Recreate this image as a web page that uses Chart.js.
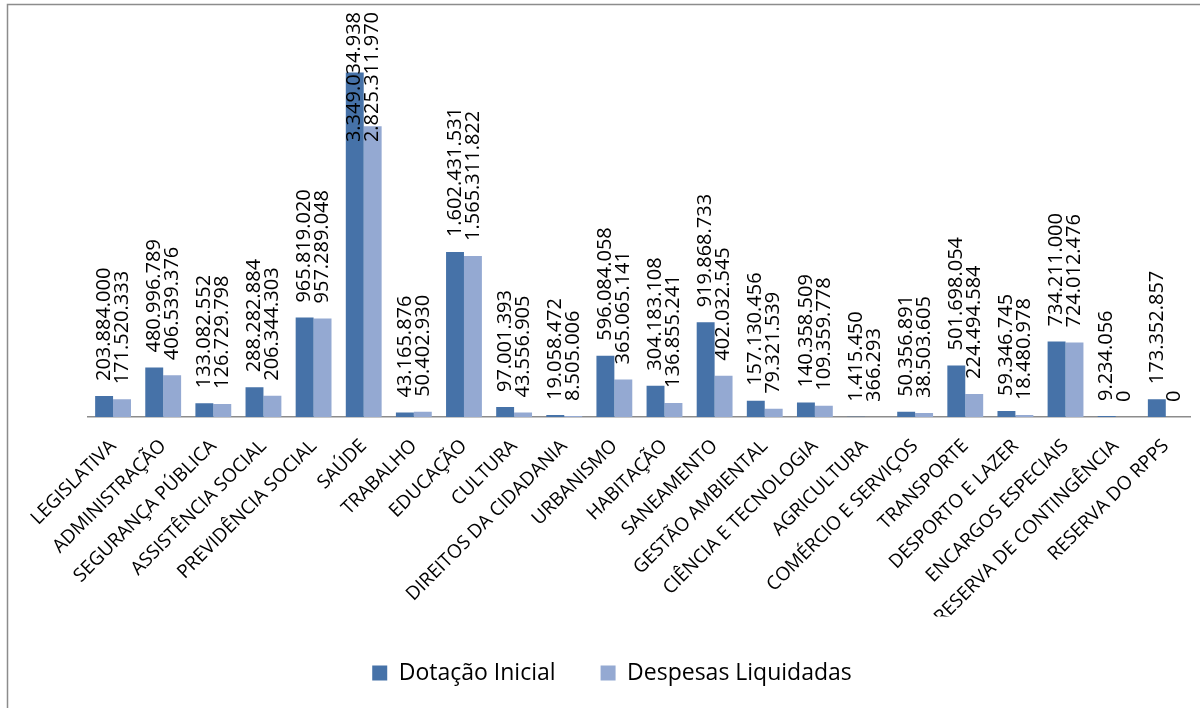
<!DOCTYPE html>
<html>
<head>
<meta charset="utf-8">
<script src="https://cdn.jsdelivr.net/npm/chart.js@4/dist/chart.umd.min.js"></script>
<style>
html,body{margin:0;padding:0;background:#fff;overflow:hidden;}
#wrap{position:relative;width:1200px;height:708px;}
</style>
</head>
<body>
<div id="wrap"><canvas id="c" width="1200" height="708"></canvas></div>
<script>
const categories = ["LEGISLATIVA","ADMINISTRAÇÃO","SEGURANÇA PÚBLICA","ASSISTÊNCIA SOCIAL","PREVIDÊNCIA SOCIAL","SAÚDE","TRABALHO","EDUCAÇÃO","CULTURA","DIREITOS DA CIDADANIA","URBANISMO","HABITAÇÃO","SANEAMENTO","GESTÃO AMBIENTAL","CIÊNCIA E TECNOLOGIA","AGRICULTURA","COMÉRCIO E SERVIÇOS","TRANSPORTE","DESPORTO E LAZER","ENCARGOS ESPECIAIS","RESERVA DE CONTINGÊNCIA","RESERVA DO RPPS"];
const dotacaoInicial = [203884000,480996789,133082552,288282884,965819020,3349034938,43165876,1602431531,97001393,19058472,596084058,304183108,919868733,157130456,140358509,1415450,50356891,501698054,59346745,734211000,9234056,173352857];
const despesasLiquidadas = [171520333,406539376,126729798,206344303,957289048,2825311970,50402930,1565311822,43556905,8505006,365065141,136855241,402032545,79321539,109359778,366293,38503605,224494584,18480978,724012476,0,0];
const seriesNames = ["Dotação Inicial","Despesas Liquidadas"];
const yMax = 4000000000;

function fmt(v){ return String(Math.round(v)).replace(/\B(?=(\d{3})+(?!\d))/g, "."); }

const framePlugin = {
  id: 'frame',
  beforeDraw(chart){
    const ctx = chart.ctx;
    ctx.save();
    ctx.strokeStyle = '#8c8c8c';
    ctx.lineWidth = 1.5;
    ctx.beginPath();
    ctx.moveTo(7.5, 720);
    ctx.lineTo(7.5, 4.5);
    ctx.lineTo(1210, 4.5);
    ctx.stroke();
    ctx.restore();
  }
};

const labelPlugin = {
  id: 'valueLabels',
  afterDatasetsDraw(chart){
    const ctx = chart.ctx;
    ctx.save();
    ctx.font = '20px "Open Sans"';
    ctx.fillStyle = '#000';
    ctx.textAlign = 'left';
    ctx.textBaseline = 'middle';
    chart.data.datasets.forEach((ds, di) => {
      const meta = chart.getDatasetMeta(di);
      meta.data.forEach((bar, i) => {
        const txt = fmt(ds.data[i]);
        const w = ctx.measureText(txt).width;
        let start = bar.y - 15;
        if (start - w < 12) start = 12 + w;
        ctx.save();
        ctx.translate(bar.x, start);
        ctx.rotate(-Math.PI / 2);
        ctx.fillText(txt, 0, 0);
        ctx.restore();
      });
    });
    ctx.restore();
  }
};

new Chart(document.getElementById('c'), {
  type: 'bar',
  data: {
    labels: categories,
    datasets: [
      { label: seriesNames[0], data: dotacaoInicial, backgroundColor: '#4672A8', barPercentage: 1, categoryPercentage: 0.715 },
      { label: seriesNames[1], data: despesasLiquidadas, backgroundColor: '#94A9D2', barPercentage: 1, categoryPercentage: 0.715 }
    ]
  },
  options: {
    responsive: false,
    animation: false,
    devicePixelRatio: 1,
    layout: { padding: { left: 28, right: 4, top: 5.4, bottom: 13.5 } },
    plugins: {
      tooltip: { enabled: false },
      legend: {
        position: 'bottom',
        maxHeight: 80,
        labels: {
          boxWidth: 15, boxHeight: 15, padding: 45,
          color: '#000',
          font: { family: '"Open Sans"', size: 23 }
        }
      }
    },
    scales: {
      x: {
        grid: { display: false, drawTicks: false },
        border: { display: true, color: '#8c8c8c', width: 1.5 },
        ticks: {
          autoSkip: false, minRotation: 45, maxRotation: 45, padding: 18,
          color: '#000', font: { family: '"Open Sans"', size: 19 }
        },
        afterFit(scale){ scale.height = 199.5; }
      },
      y: {
        min: 0, max: yMax,
        grid: { display: false, drawTicks: false },
        border: { display: false },
        ticks: { display: false },
        afterFit(scale){ scale.width = 60; }
      }
    }
  },
  plugins: [framePlugin, labelPlugin]
});
</script>
</body>
</html>
